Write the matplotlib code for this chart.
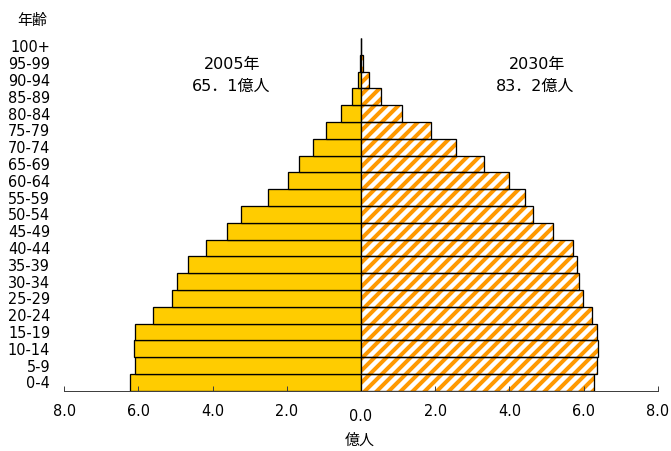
import matplotlib
matplotlib.use("Agg")
import matplotlib.pyplot as plt
from matplotlib.ticker import FuncFormatter

# World population by five-year age group (hundred millions of people)
age_groups = ["0-4", "5-9", "10-14", "15-19", "20-24", "25-29", "30-34",
              "35-39", "40-44", "45-49", "50-54", "55-59", "60-64", "65-69",
              "70-74", "75-79", "80-84", "85-89", "90-94", "95-99", "100+"]
pop_2005 = [6.23, 6.09, 6.13, 6.09, 5.60, 5.10, 4.96, 4.67, 4.19, 3.62, 3.23,
            2.51, 1.96, 1.67, 1.29, 0.94, 0.55, 0.23, 0.09, 0.02, 0.005]
pop_2030 = [6.29, 6.36, 6.40, 6.36, 6.23, 5.98, 5.87, 5.83, 5.72, 5.17, 4.64,
            4.43, 4.00, 3.32, 2.55, 1.89, 1.11, 0.54, 0.22, 0.05, 0.01]
x_ticks = [-8, -6, -4, -2, 0, 2, 4, 6, 8]
label_2005 = ["2005年", "65．1億人"]
label_2030 = ["2030年", "83．2億人"]

W, H = 671, 451
DPI = 72
plt.rcParams["font.family"] = ["DejaVu Sans", "Noto Sans CJK JP"]
plt.rcParams["hatch.linewidth"] = 4.0

GOLD = "#FFCC00"
ORANGE = "#FF9900"


def fx(px):
    return px / W


def fy(py):
    return 1 - py / H


fig = plt.figure(figsize=(W / DPI, H / DPI), dpi=DPI)
ax = fig.add_axes([fx(64.3), fy(390.7), (657.7 - 64.3) / W, (390.7 - 38) / H])

ypos = list(range(len(age_groups)))

# 2005: solid gold bars extending to the left
ax.barh(ypos, [-v for v in pop_2005], height=1.0, color=GOLD,
        edgecolor="black", linewidth=1.3, zorder=1)
# 2030: orange diagonal stripes extending to the right
ax.barh(ypos, pop_2030, height=1.0, color="white", edgecolor=ORANGE,
        hatch="//", linewidth=0, zorder=1)
ax.barh(ypos, pop_2030, height=1.0, fill=False, edgecolor="black",
        linewidth=1.3, zorder=2)

ax.set_xlim(-8, 8)
ax.set_ylim(-0.5, len(age_groups) - 0.5)

ax.set_yticks(ypos, age_groups)
ax.tick_params(axis="y", length=0, pad=14, labelsize=14.5)

ax.set_xticks(x_ticks)
ax.xaxis.set_major_formatter(FuncFormatter(lambda v, _: f"{abs(v):.1f}"))
ax.tick_params(axis="x", direction="in", length=5, width=1, pad=13,
               labelsize=14.5, color="#404040")
ax.xaxis.get_major_ticks()[4].set_pad(18)

for side in ("left", "top", "right"):
    ax.spines[side].set_visible(False)
ax.spines["bottom"].set_color("#404040")
ax.spines["bottom"].set_linewidth(1)

fig.text(fx(232.5), fy(65), label_2005[0], ha="center", va="center", fontsize=16)
fig.text(fx(231), fy(86.7), label_2005[1], ha="center", va="center", fontsize=16)
fig.text(fx(536.7), fy(65), label_2030[0], ha="center", va="center", fontsize=16)
fig.text(fx(535.3), fy(86.7), label_2030[1], ha="center", va="center", fontsize=16)

fig.text(fx(32), fy(20), "年齢", ha="center", va="center", fontsize=15)
fig.text(fx(360), fy(440), "億人", ha="center", va="center", fontsize=15)

fig.savefig("out.png", dpi=DPI)
